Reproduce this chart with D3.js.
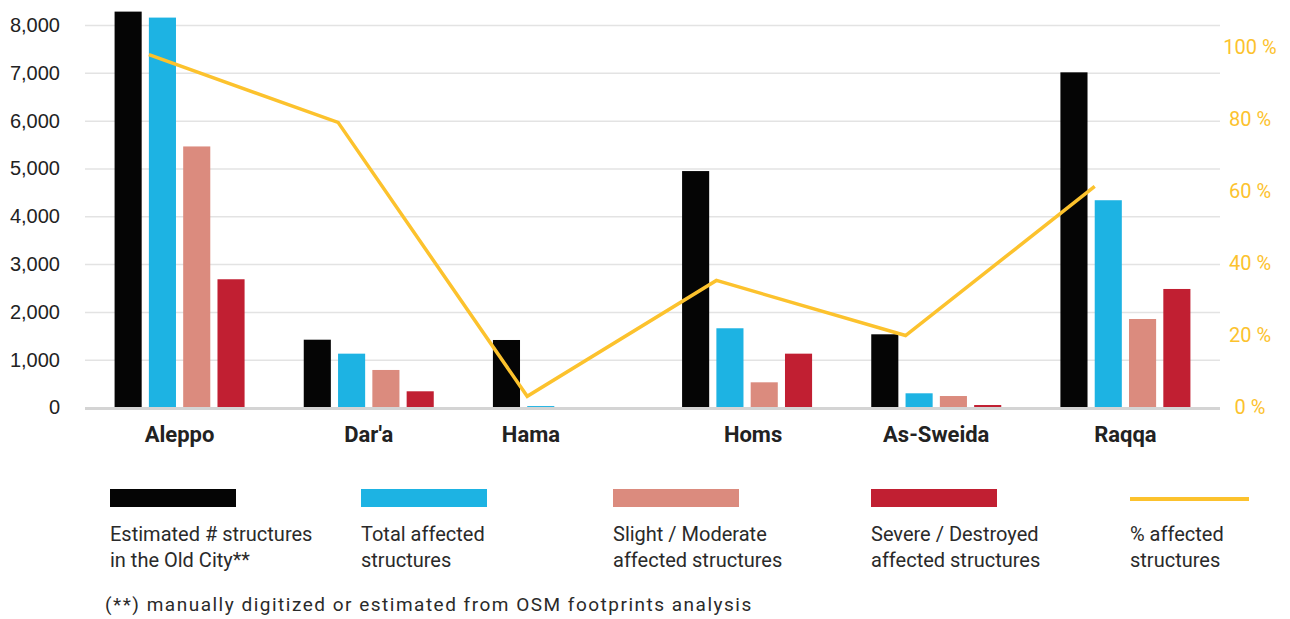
<!DOCTYPE html>
<html>
<head>
<meta charset="utf-8">
<script src="https://cdn.jsdelivr.net/npm/d3@7"></script>
<style>
  html, body { margin: 0; padding: 0; background: #fff; }
  svg { display: block; }
</style>
</head>
<body>
<svg id="chart" width="1290" height="619"></svg>
<script>
// ---------- DATA ----------
const categories = ["Aleppo", "Dar'a", "Hama", "Homs", "As-Sweida", "Raqqa"];
const estimatedStructures = [8280, 1418, 1412, 4945, 1531, 7010];
const totalAffected       = [8155, 1126, 30, 1657, 297, 4335];
const slightModerate      = [5460, 785, 0, 527, 240, 1851];
const severeDestroyed     = [2682, 339, 0, 1126, 52, 2479];
const pctAffected         = [98, 79.2, 3.1, 35.3, 20, 61.4];
const leftTicks  = [0, 1000, 2000, 3000, 4000, 5000, 6000, 7000, 8000];
const rightTicks = [0, 20, 40, 60, 80, 100];
const seriesKeys = ["est", "total", "slight", "severe"];
const seriesLabels = [
  ["Estimated # structures", "in the Old City**"],
  ["Total affected", "structures"],
  ["Slight / Moderate", "affected structures"],
  ["Severe / Destroyed", "affected structures"],
  ["% affected", "structures"]
];
const footnote = "(**) manually digitized or estimated from OSM footprints analysis";

// ---------- STYLE ----------
const colors = { est: "#050505", total: "#1db3e3", slight: "#db8b7e", severe: "#c11f32", pct: "#fcc22d" };
const labelNudge = { "Hama": -27, "Homs": 6 };

const svg = d3.select("#chart");
const plotL = 85, plotR = 1220, plotB = 407.5;

const x0 = d3.scaleBand().domain(categories).range([plotL, plotR]).paddingInner(0).paddingOuter(0);
const groupW = 130;
const x1 = d3.scaleBand().domain(seriesKeys).range([0, groupW]).paddingInner(0.21).paddingOuter(0);
const groupOffset = (x0.bandwidth() - groupW) / 2;

const yL = d3.scaleLinear().domain([0, 8000]).range([plotB, 25]);
const yR = d3.scaleLinear().domain([0, 100]).range([plotB, 47.5]);

const rows = categories.map((c, i) => ({
  cat: c,
  est: estimatedStructures[i],
  total: totalAffected[i],
  slight: slightModerate[i],
  severe: severeDestroyed[i],
  pct: pctAffected[i]
}));

// gridlines
const leftAxis = d3.axisLeft(yL).tickValues(leftTicks).tickSize(-(plotR - plotL)).tickPadding(25)
  .tickFormat(d3.format(","));
const gL = svg.append("g").attr("transform", `translate(${plotL},0)`).call(leftAxis);
gL.select(".domain").remove();
gL.selectAll(".tick line").attr("stroke", "#e3e3e3").attr("stroke-width", 1.5);
gL.selectAll(".tick text")
  .attr("font-family", "'Liberation Sans', Arial, sans-serif")
  .attr("font-size", 20).attr("fill", "#222");
gL.selectAll(".tick").filter(d => d === 0).select("line").remove();

// bars
const groups = svg.append("g").selectAll("g").data(rows).join("g")
  .attr("transform", d => `translate(${x0(d.cat) + groupOffset},0)`);
groups.selectAll("rect").data(d => seriesKeys.map(k => ({ key: k, value: d[k] })))
  .join("rect")
  .attr("x", d => x1(d.key))
  .attr("width", x1.bandwidth())
  .attr("y", d => yL(d.value))
  .attr("height", d => plotB - yL(d.value))
  .attr("fill", d => colors[d.key]);

// baseline
svg.append("line").attr("x1", plotL).attr("x2", plotR).attr("y1", plotB + 1).attr("y2", plotB + 1)
  .attr("stroke", "#d4d4d4").attr("stroke-width", 3);

// line
const line = d3.line()
  .x(d => x0(d.cat) + groupOffset + x1("total"))
  .y(d => yR(d.pct));
svg.append("path").datum(rows).attr("d", line)
  .attr("fill", "none").attr("stroke", colors.pct).attr("stroke-width", 3.5)
  .attr("stroke-linejoin", "miter");

// right axis
const rightAxis = d3.axisRight(yR).tickValues(rightTicks).tickSize(0).tickPadding(0)
  .tickFormat(d => d + " %");
const gR = svg.append("g").attr("transform", `translate(1250,0)`).call(rightAxis);
gR.select(".domain").remove();
gR.selectAll(".tick text")
  .attr("text-anchor", "middle")
  .attr("font-family", "Roboto, sans-serif")
  .attr("font-size", 20).attr("fill", colors.pct);

// category labels
svg.append("g").selectAll("text").data(categories).join("text")
  .attr("x", d => x0(d) + x0.bandwidth() / 2 + (labelNudge[d] || 0))
  .attr("y", 441.5)
  .attr("text-anchor", "middle")
  .attr("font-family", "Roboto, sans-serif")
  .attr("font-weight", "bold")
  .attr("font-size", 22)
  .attr("fill", "#222")
  .text(d => d);

// legend
const legendX = [110, 361, 613, 871, 1130];
const legendKeys = ["est", "total", "slight", "severe", "pct"];
const lg = svg.append("g").selectAll("g").data(legendKeys).join("g")
  .attr("transform", (d, i) => `translate(${legendX[i]},0)`);
lg.each(function (k, i) {
  const g = d3.select(this);
  if (k === "pct") {
    g.append("line").attr("x1", 0).attr("x2", 119).attr("y1", 499).attr("y2", 499)
      .attr("stroke", colors.pct).attr("stroke-width", 4);
  } else {
    g.append("rect").attr("x", 0).attr("y", 489).attr("width", 126).attr("height", 18)
      .attr("fill", colors[k]);
  }
  const t = g.append("text").attr("font-family", "Roboto, sans-serif")
    .attr("font-size", 20).attr("fill", "#2a2a2a");
  seriesLabels[i].forEach((s, j) => {
    t.append("tspan").attr("x", 0).attr("y", 541 + j * 25.5).text(s);
  });
});

// footnote
svg.append("text").attr("x", 105).attr("y", 611)
  .attr("font-family", "Roboto, sans-serif").attr("font-size", 19)
  .attr("letter-spacing", 1.5)
  .attr("fill", "#2a2a2a").text(footnote);
</script>
</body>
</html>
